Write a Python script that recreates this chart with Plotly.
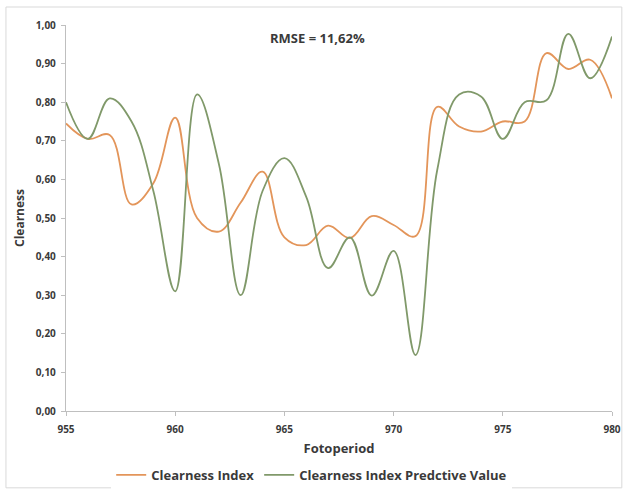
import plotly.graph_objects as go

# Photoperiod index along the x axis
fotoperiod = list(range(955, 981))

# Measured clearness index
clearness_index = [0.745, 0.705, 0.715, 0.535, 0.59, 0.76, 0.50, 0.465, 0.54, 0.62,
                   0.45, 0.43, 0.48, 0.448, 0.505, 0.482, 0.453, 0.788, 0.737, 0.724,
                   0.75, 0.75, 0.927, 0.886, 0.91, 0.81]

# Model prediction of the clearness index
clearness_pred = [0.80, 0.705, 0.81, 0.75, 0.57, 0.31, 0.82, 0.64, 0.30, 0.57,
                  0.655, 0.555, 0.37, 0.45, 0.299, 0.415, 0.145, 0.625, 0.82, 0.815,
                  0.705, 0.80, 0.805, 0.977, 0.862, 0.97]

y_ticks = [i / 10 for i in range(11)]
x_ticks = [955, 960, 965, 970, 975, 980]

ORANGE = "#E3955A"
GREEN = "#80996A"
AXIS = "#BFBFBF"
TEXT = "#3A3A3A"
FONT = "Open Sans"

fig = go.Figure()
fig.add_trace(go.Scatter(
    x=fotoperiod, y=clearness_index, mode="lines", name="Clearness Index",
    line=dict(color=ORANGE, width=1.8, shape="spline", smoothing=1.1),
))
fig.add_trace(go.Scatter(
    x=fotoperiod, y=clearness_pred, mode="lines", name="Clearness Index Predctive Value",
    line=dict(color=GREEN, width=1.8, shape="spline", smoothing=1.1),
))

fig.update_layout(
    width=626, height=490,
    margin=dict(l=66, r=14, t=25, b=79, autoexpand=False),
    paper_bgcolor="white", plot_bgcolor="white",
    separators=",.",
    font=dict(family=FONT, color=TEXT, size=10),
    showlegend=True,
    legend=dict(
        orientation="h", x=0.45, xanchor="center", y=-0.2047, yanchor="bottom",
        font=dict(family=FONT, size=13, color=TEXT, weight="bold"),
        itemwidth=30, tracegroupgap=0,
    ),
    xaxis=dict(
        range=[955, 980], tickvals=x_ticks, ticks="outside", ticklen=4,
        tickcolor=AXIS, showline=True, linecolor=AXIS, linewidth=1.3,
        showgrid=False, zeroline=False, ticklabelstandoff=5,
        tickfont=dict(family=FONT, size=10, color=TEXT, weight="bold"),
        title=dict(text="Fotoperiod", standoff=8,
                   font=dict(family=FONT, size=13, color=TEXT, weight="bold")),
    ),
    yaxis=dict(
        range=[0, 1.0], tickvals=y_ticks, tickformat=".2f", ticks="outside",
        ticklen=4, tickcolor=AXIS, showline=True, linecolor=AXIS, linewidth=1.3,
        showgrid=False, zeroline=False, ticklabelstandoff=3,
        tickfont=dict(family=FONT, size=10, color=TEXT, weight="bold"),
        title=dict(text="Clearness", standoff=8,
                   font=dict(family=FONT, size=12, color=TEXT, weight="bold")),
    ),
    annotations=[dict(
        x=966.5, y=0.966, xref="x", yref="y", text="RMSE = 11,62%",
        showarrow=False, font=dict(family=FONT, size=13, color=TEXT, weight="bold"),
    )],
    shapes=[dict(
        type="rect", xref="paper", yref="paper",
        x0=-0.11, x1=1.018, y0=-0.199, y1=1.0466,
        line=dict(color="#D9D9D9", width=1), fillcolor="rgba(0,0,0,0)", layer="below",
    )],
)

fig.write_html("out.html")
